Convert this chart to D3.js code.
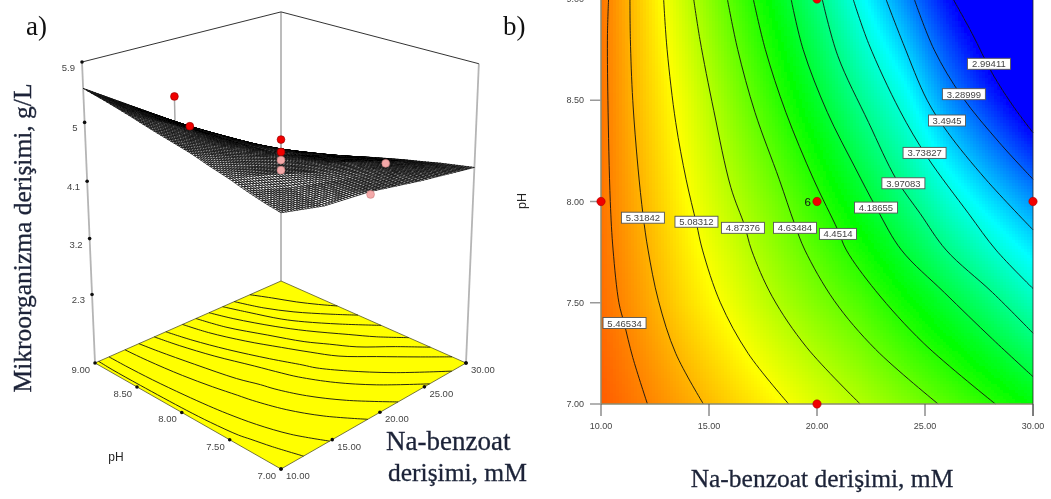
<!DOCTYPE html>
<html>
<head>
<meta charset="utf-8">
<script src="https://cdn.jsdelivr.net/npm/d3@7"></script>
<style>
  html, body { margin: 0; background: #fff; }
  svg { display: block; }
</style>
</head>
<body>
<div id="chart"></div>
<script>
const xTicks = [10, 15, 20, 25, 30];
const phTicks = [7, 7.5, 8, 8.5, 9];
const zTicks = [5.9, 5, 4.1, 3.2, 2.3];

const gridX = [10, 12, 14, 16, 18, 20, 22, 24, 26, 28, 30];
const gridPh = [7, 7.5, 8, 8.5, 9];
const gridZ = [
  [5.58, 5.475, 5.36, 5.24, 5.125, 5.0, 4.874, 4.74, 4.61, 4.47, 4.33],
  [5.53, 5.375, 5.20, 5.05, 4.88, 4.725, 4.58, 4.39, 4.21, 4.03, 3.84],
  [5.51, 5.31, 5.10, 4.90, 4.70, 4.485, 4.255, 4.03, 3.785, 3.575, 3.38],
  [5.51, 5.26, 5.03, 4.76, 4.50, 4.23, 3.96, 3.72, 3.38, 3.11, 2.84],
  [5.51, 5.22, 4.92, 4.61, 4.31, 4.01, 3.685, 3.37, 3.04, 2.72, 2.42]
];

const contourLevels = ["5.46534", "5.31842", "5.08312", "4.87376", "4.63484", "4.4514",
  "4.18655", "3.97083", "3.73827", "3.4945", "3.28999", "2.99411"];

// [Na-benzoat, pH] along each contour
const contourLines = [
  [[10.35, 9], [10.30, 8.83], [10.32, 8.5], [10.43, 8], [10.56, 7.76], [10.83, 7.5], [11.07, 7.4], [11.47, 7.23], [12.15, 7]],
  [[11.34, 9], [11.36, 8.8], [11.47, 8.5], [11.71, 8.17], [11.95, 7.93], [12.18, 7.76], [12.66, 7.51], [13.46, 7.25], [14.74, 7]],
  [[12.90, 9], [13.06, 8.75], [13.46, 8.39], [13.94, 8.11], [14.42, 7.89], [14.70, 7.76], [15.53, 7.5], [16.81, 7.25], [18.69, 7]],
  [[14.29, 9], [14.58, 8.8], [15.22, 8.45], [16.01, 8.07], [16.65, 7.88], [16.97, 7.76], [17.93, 7.53], [19.52, 7.28], [22.0, 7]],
  [[15.85, 9], [16.33, 8.75], [17.13, 8.44], [18.25, 8.11], [18.96, 7.89], [19.44, 7.76], [20.80, 7.51], [22.71, 7.27], [25.61, 7]],
  [[17.05, 9], [17.61, 8.75], [18.56, 8.44], [19.84, 8.11], [20.96, 7.86], [21.36, 7.76], [22.71, 7.56], [24.94, 7.3], [28.26, 7]],
  [[18.80, 9], [19.36, 8.75], [20.48, 8.44], [21.75, 8.17], [22.79, 7.96], [23.91, 7.76], [25.90, 7.55], [28.13, 7.32], [30, 7.135]],
  [[20.24, 9], [20.96, 8.72], [22.39, 8.39], [23.67, 8.11], [24.78, 7.94], [25.98, 7.76], [28.13, 7.55], [30, 7.35]],
  [[21.67, 9], [22.39, 8.78], [23.83, 8.45], [25.10, 8.22], [27.02, 7.94], [28.29, 7.76], [30, 7.57]],
  [[23.19, 9], [23.99, 8.78], [25.10, 8.5], [26.06, 8.34], [27.81, 8.11], [30, 7.86]],
  [[24.50, 9], [25.42, 8.75], [26.70, 8.52], [28.45, 8.29], [30, 8.11]],
  [[26.30, 9], [27.18, 8.83], [28.13, 8.63], [29.09, 8.47], [30, 8.34]]
];

const labelX = [11.09, 11.94, 14.42, 16.57, 18.98, 20.97, 22.73, 24.0, 24.98, 26.02, 26.8, 27.96];
const labelPh = [7.40, 7.92, 7.90, 7.87, 7.87, 7.84, 7.97, 8.09, 8.24, 8.40, 8.53, 8.68];

// design points: x, pH, measured response, seen above or below the surface
const pointX = [10, 20, 20, 20, 20, 20, 20, 30];
const pointPh = [8, 9, 8, 8, 8, 8, 7, 8];
const pointZ = [5.86, 4.45, 4.75, 4.56, 4.435, 4.28, 4.93, 3.33];
const pointAbove = [true, true, true, true, false, false, false, false];
const planePointX = [10, 20, 30, 20, 20];
const planePointPh = [8, 8, 8, 7, 9];

const width = 1051, height = 499;
const serif = "'Liberation Serif', serif";
const sans = "'Liberation Sans', sans-serif";

const svg = d3.select("#chart").append("svg")
  .attr("width", width)
  .attr("height", height);

// the reference is a slightly soft bitmap
svg.append("defs").append("filter")
  .attr("id", "soft")
  .attr("x", 0).attr("y", 0).attr("width", 1).attr("height", 1)
  .attr("filterUnits", "userSpaceOnUse")
  .attr("width", width).attr("height", height)
  .append("feGaussianBlur")
  .attr("stdDeviation", 0.45);

const gridXIndex = d3.scaleLinear().domain(gridX).range(d3.range(gridX.length)).clamp(true);
const gridPhIndex = d3.scaleLinear().domain(gridPh).range(d3.range(gridPh.length)).clamp(true);

function response(x, ph) {
  const i = gridXIndex(x), j = gridPhIndex(ph);
  const i0 = Math.min(Math.floor(i), gridX.length - 2), j0 = Math.min(Math.floor(j), gridPh.length - 2);
  const top = d3.interpolateNumber(gridZ[j0][i0], gridZ[j0][i0 + 1])(i - i0);
  const bot = d3.interpolateNumber(gridZ[j0 + 1][i0], gridZ[j0 + 1][i0 + 1])(i - i0);
  return d3.interpolateNumber(top, bot)(j - j0);
}

// ---- panel b, contour plot
const x = d3.scaleLinear().domain([10, 30]).range([601, 1033]);
const y = d3.scaleLinear().domain([7, 9]).range([404, -1]);

const color = d3.scaleLinear()
  .domain([3.0, 3.65, 4.35, 5.1, 5.85])
  .range(["#0000ff", "#00ffff", "#00ff00", "#ffff00", "#ff0000"])
  .clamp(true);

const cellSize = 3;
const cells = [];
for (let px = 601; px < 1033; px += cellSize) {
  for (let py = 0; py < 404; py += cellSize) {
    cells.push([px, py]);
  }
}

const b = svg.append("g").attr("filter", "url(#soft)");

b.append("g")
  .attr("shape-rendering", "crispEdges")
  .selectAll("rect")
  .data(cells)
  .join("rect")
  .attr("x", d => d[0])
  .attr("y", d => d[1])
  .attr("width", d => Math.min(cellSize, 1033 - d[0]))
  .attr("height", d => Math.min(cellSize, 404 - d[1]))
  .attr("fill", d => color(response(x.invert(d[0] + 1.5), y.invert(d[1] + 1.5))));

const planeLine = d3.line()
  .x(d => x(d[0]))
  .y(d => y(d[1]))
  .curve(d3.curveCatmullRom);

b.append("g")
  .attr("fill", "none")
  .attr("stroke", "#111")
  .attr("stroke-width", 0.9)
  .selectAll("path")
  .data(contourLines)
  .join("path")
  .attr("d", planeLine);

// frame and ticks
b.append("path")
  .attr("d", `M${x(10)},-1V${y(7)}H${x(30)}`)
  .attr("fill", "none")
  .attr("stroke", "#8c8c70")
  .attr("stroke-width", 1.5);
b.append("path")
  .attr("d", `M${x(30)},-1V${y(7) + 12}`)
  .attr("stroke", "#222")
  .attr("stroke-width", 0.8);

b.append("g")
  .selectAll("line")
  .data(xTicks)
  .join("line")
  .attr("x1", d => x(d))
  .attr("x2", d => x(d))
  .attr("y1", y(7))
  .attr("y2", y(7) + 12)
  .attr("stroke", "#555");

b.append("g")
  .selectAll("line")
  .data(phTicks)
  .join("line")
  .attr("x1", x(10) - 11)
  .attr("x2", x(10))
  .attr("y1", d => y(d))
  .attr("y2", d => y(d))
  .attr("stroke", "#999")
  .attr("stroke-width", 1.5);

b.append("g")
  .attr("font-family", sans)
  .attr("font-size", 9)
  .attr("fill", "#444")
  .selectAll("text")
  .data(xTicks)
  .join("text")
  .attr("x", d => x(d))
  .attr("y", 429)
  .attr("text-anchor", "middle")
  .text(d => d.toFixed(2));

b.append("g")
  .attr("font-family", sans)
  .attr("font-size", 9)
  .attr("fill", "#444")
  .selectAll("text")
  .data(phTicks)
  .join("text")
  .attr("x", 584)
  .attr("y", d => y(d) + 3)
  .attr("text-anchor", "end")
  .text(d => d.toFixed(2));

// contour labels
const tag = b.append("g")
  .selectAll("g")
  .data(contourLevels)
  .join("g")
  .attr("transform", (d, i) => `translate(${x(labelX[i])},${y(labelPh[i])})`);

tag.append("rect")
  .attr("x", d => d.length > 6 ? -21.5 : -18.5)
  .attr("y", -5.5)
  .attr("width", d => d.length > 6 ? 43 : 37)
  .attr("height", 11)
  .attr("fill", "#fff")
  .attr("stroke", "#555")
  .attr("stroke-width", 0.9);

tag.append("text")
  .attr("text-anchor", "middle")
  .attr("y", 3.5)
  .attr("font-family", sans)
  .attr("font-size", 9.5)
  .attr("fill", "#444")
  .text(d => d);

b.append("g")
  .selectAll("circle")
  .data(planePointX)
  .join("circle")
  .attr("cx", d => x(d))
  .attr("cy", (d, i) => y(planePointPh[i]))
  .attr("r", 4.2)
  .attr("fill", "#f00000")
  .attr("stroke", "#a00000")
  .attr("stroke-width", 0.5);

b.append("text")
  .attr("x", x(20) - 6)
  .attr("y", y(8) + 4.5)
  .attr("text-anchor", "end")
  .attr("font-family", sans)
  .attr("font-size", 11.5)
  .attr("fill", "#111")
  .text("6");

b.append("text")
  .attr("transform", "translate(526,201) rotate(-90)")
  .attr("text-anchor", "middle")
  .attr("font-family", sans)
  .attr("font-size", 12.5)
  .attr("fill", "#222")
  .text("pH");

b.append("text")
  .attr("x", 822)
  .attr("y", 487)
  .attr("text-anchor", "middle")
  .attr("font-family", serif)
  .attr("font-size", 25.5)
  .attr("fill", "#1c2438")
  .attr("stroke", "#1c2438")
  .attr("stroke-width", 0.3)
  .text("Na-benzoat derişimi, mM");

// ---- panel a, response surface
// floor corners on screen: front (10, 7), right (30, 7), back (30, 9), left (10, 9)
const floor = [[281, 469], [466, 363], [281, 281], [95, 363]];
const vanish = [281, 4670];
const leftTopY = 62;

const u = d3.scaleLinear().domain([10, 30]).range([0, 1]);
const v = d3.scaleLinear().domain([7, 9]).range([0, 1]);
const w = d3.scaleLinear().domain([1.165, 5.9]).range([0, 1]);

const [p0, p1, p2, p3] = floor;
const dx1 = p1[0] - p2[0], dx2 = p3[0] - p2[0], sx = p0[0] - p1[0] + p2[0] - p3[0];
const dy1 = p1[1] - p2[1], dy2 = p3[1] - p2[1], sy = p0[1] - p1[1] + p2[1] - p3[1];
const den = dx1 * dy2 - dx2 * dy1;
const g = (sx * dy2 - dx2 * sy) / den, h = (dx1 * sy - sx * dy1) / den;
const a = p1[0] - p0[0] + g * p1[0], bb = p3[0] - p0[0] + h * p3[0], c = p0[0];
const d_ = p1[1] - p0[1] + g * p1[1], e = p3[1] - p0[1] + h * p3[1], f = p0[1];
const rise = (leftTopY * (h + 1) - (e + f)) / (vanish[1] - leftTopY);

function project(xv, ph, z) {
  const s = u(xv), t = v(ph), k = w(z) * rise;
  const q = g * s + h * t + 1 + k;
  return [(a * s + bb * t + c + k * vanish[0]) / q, (d_ * s + e * t + f + k * vanish[1]) / q];
}

const zFloor = w.domain()[0], zTop = w.domain()[1];
const A = svg.append("g").attr("filter", "url(#soft)");
const path3d = d3.line();

// box edges
const edges = [
  [[10, 9, zFloor], [10, 9, zTop]],
  [[30, 9, zFloor], [30, 9, zTop]],
  [[30, 7, zFloor], [30, 7, zTop]]
];
A.append("g")
  .selectAll("path")
  .data(edges)
  .join("path")
  .attr("d", d => path3d(d.map(p => project(...p))))
  .attr("stroke", "#b5b5b5")
  .attr("stroke-width", 1.8)
  .attr("fill", "none");

A.append("path")
  .attr("d", path3d([[10, 9, zTop], [30, 9, zTop], [30, 7, zTop]].map(p => project(...p))))
  .attr("stroke", "#333")
  .attr("fill", "none");

// yellow floor with the same contours
A.append("path")
  .attr("d", path3d([[10, 7], [30, 7], [30, 9], [10, 9]].map(p => project(p[0], p[1], zFloor))) + "Z")
  .attr("fill", "#ffff00")
  .attr("stroke", "#55552a")
  .attr("stroke-width", 0.8);

const floorLine = d3.line()
  .x(d => project(d[0], d[1], zFloor)[0])
  .y(d => project(d[0], d[1], zFloor)[1])
  .curve(d3.curveCatmullRom);

A.append("g")
  .attr("fill", "none")
  .attr("stroke", "#111")
  .attr("stroke-width", 0.9)
  .selectAll("path")
  .data(contourLines)
  .join("path")
  .attr("d", floorLine);

// floor and height ticks
const tickDots = xTicks.map(d => [d, 7, zFloor])
  .concat(phTicks.map(d => [10, d, zFloor]))
  .concat([[30, 7, zFloor]])
  .concat(zTicks.map(d => [10, 9, d]));

A.append("g")
  .selectAll("circle")
  .data(tickDots)
  .join("circle")
  .attr("cx", d => project(...d)[0])
  .attr("cy", d => project(...d)[1])
  .attr("r", 1.8)
  .attr("fill", "#111");

const axisLabels = A.append("g")
  .attr("font-family", sans)
  .attr("font-size", 9.5)
  .attr("fill", "#444");

axisLabels.selectAll(".z")
  .data(zTicks)
  .join("text")
  .attr("class", "z")
  .attr("x", d => project(10, 9, d)[0] - 7)
  .attr("y", d => project(10, 9, d)[1] + 9)
  .attr("text-anchor", "end")
  .text(d => d);

axisLabels.selectAll(".ph")
  .data(phTicks)
  .join("text")
  .attr("class", "ph")
  .attr("x", d => project(10, d, zFloor)[0] - 5)
  .attr("y", d => project(10, d, zFloor)[1] + 10)
  .attr("text-anchor", "end")
  .text(d => d.toFixed(2));

axisLabels.selectAll(".xv")
  .data(xTicks)
  .join("text")
  .attr("class", "xv")
  .attr("x", d => project(d, 7, zFloor)[0] + 5)
  .attr("y", d => project(d, 7, zFloor)[1] + 10)
  .text(d => d.toFixed(2));

// design points and their stems to the surface
const points = pointX.map((d, i) => ({ x: d, ph: pointPh[i], z: pointZ[i], above: pointAbove[i] }));

// stems go under the mesh, only the part above its edge shows
A.append("g")
  .selectAll("path")
  .data(points.filter(d => d.above))
  .join("path")
  .attr("d", d => path3d([project(d.x, d.ph, d.z), project(d.x, d.ph, response(d.x, d.ph))]))
  .attr("stroke", "#aaa")
  .attr("stroke-width", 1.5);

// wire mesh, painted from the back corner forward
const meshSteps = 60;
const meshCells = [];
for (let i = meshSteps - 1; i >= 0; i--) {
  for (let j = meshSteps - 1; j >= 0; j--) {
    meshCells.push([i, j]);
  }
}
const meshX = d3.scaleLinear().domain([0, meshSteps]).range([10, 30]);
const meshPh = d3.scaleLinear().domain([0, meshSteps]).range([7, 9]);
const meshPoint = (i, j) => project(meshX(i), meshPh(j), response(meshX(i), meshPh(j)));

A.append("g")
  .attr("fill", "#fff")
  .attr("stroke", "#000")
  .attr("stroke-width", 0.7)
  .selectAll("path")
  .data(meshCells)
  .join("path")
  .attr("d", ([i, j]) => path3d([
    meshPoint(i, j), meshPoint(i + 1, j), meshPoint(i + 1, j + 1), meshPoint(i, j + 1)
  ]) + "Z");

A.append("g")
  .selectAll("circle")
  .data(points)
  .join("circle")
  .attr("cx", d => project(d.x, d.ph, d.z)[0])
  .attr("cy", d => project(d.x, d.ph, d.z)[1])
  .attr("r", 3.9)
  .attr("fill", d => d.above ? "#f00000" : "#f4a9a9")
  .attr("stroke", d => d.above ? "#900000" : "#c98080")
  .attr("stroke-width", 0.6);

A.append("text")
  .attr("x", 116)
  .attr("y", 461)
  .attr("text-anchor", "middle")
  .attr("font-family", sans)
  .attr("font-size", 12)
  .attr("fill", "#222")
  .text("pH");

const titleColor = "#1c2438";

A.append("text")
  .attr("transform", "translate(31,238) rotate(-90)")
  .attr("text-anchor", "middle")
  .attr("font-family", serif)
  .attr("font-size", 25.5)
  .attr("fill", titleColor)
  .attr("stroke", titleColor)
  .attr("stroke-width", 0.3)
  .text("Mikroorganizma derişimi, g/L");

A.append("text")
  .attr("x", 386)
  .attr("y", 450)
  .attr("font-family", serif)
  .attr("font-size", 27)
  .attr("fill", titleColor)
  .attr("stroke", titleColor)
  .attr("stroke-width", 0.3)
  .text("Na-benzoat");

A.append("text")
  .attr("x", 388)
  .attr("y", 481)
  .attr("font-family", serif)
  .attr("font-size", 25.5)
  .attr("fill", titleColor)
  .attr("stroke", titleColor)
  .attr("stroke-width", 0.3)
  .text("derişimi, mM");

svg.append("text")
  .attr("x", 26)
  .attr("y", 35)
  .attr("font-family", serif)
  .attr("font-size", 27)
  .attr("fill", "#111")
  .text("a)");

svg.append("text")
  .attr("x", 503)
  .attr("y", 35)
  .attr("font-family", serif)
  .attr("font-size", 27)
  .attr("fill", "#111")
  .text("b)");
</script>
</body>
</html>
